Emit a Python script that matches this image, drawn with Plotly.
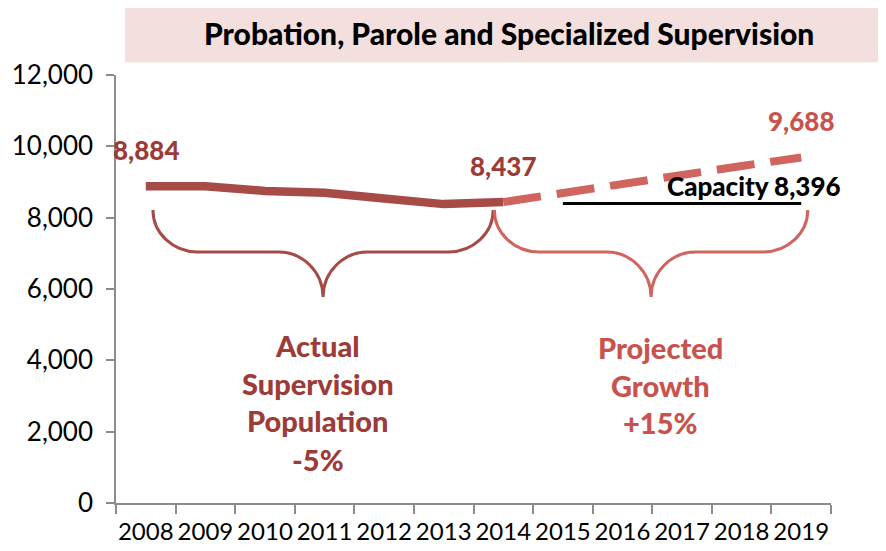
import plotly.graph_objects as go

# ---------------- data ----------------
actual_years = [2008, 2009, 2010, 2011, 2012, 2013, 2014]
actual_values = [8884, 8880, 8750, 8700, 8540, 8380, 8437]
projected_years = [2014, 2015, 2016, 2017, 2018, 2019]
projected_values = [8437, 8700, 8950, 9200, 9450, 9688]
capacity_years = [2015, 2016, 2017, 2018, 2019]
capacity_values = [8396, 8396, 8396, 8396, 8396]
year_ticks = list(range(2008, 2020))
y_ticks = [0, 2000, 4000, 6000, 8000, 10000, 12000]

title_text = "Probation, Parole and Specialized Supervision"
actual_label_lines = ["Actual", "Supervision", "Population", "-5%"]
projected_label_lines = ["Projected", "Growth", "+15%"]
capacity_label = "Capacity {:,}".format(capacity_values[-1])

# ---------------- style ----------------
FONT = "Lato"
DARK = "#A64B46"
DARK_TXT = "#9C3B37"
LIGHT = "#D0645E"
LIGHT_TXT = "#C9524D"
AXIS = "#8C8C8C"
W = 900

fig = go.Figure()

fig.add_trace(go.Scatter(x=actual_years, y=actual_values, mode="lines",
                         line=dict(color=DARK, width=8.5), hoverinfo="skip",
                         showlegend=False))
fig.add_trace(go.Scatter(x=projected_years, y=projected_values, mode="lines",
                         line=dict(color=LIGHT, width=8, dash="38px,16px"),
                         hoverinfo="skip", showlegend=False))
fig.add_trace(go.Scatter(x=capacity_years, y=capacity_values, mode="lines",
                         line=dict(color="black", width=3), hoverinfo="skip",
                         showlegend=False))


def brace(xa, xb, ytop, ybar, ytip, r):
    mid = (xa + xb) / 2.0
    h = ytop - ybar
    h2 = ybar - ytip
    k = 0.552
    p = [
        f"M {xa},{ytop}",
        f"C {xa},{ytop - k*h} {xa + (1-k)*r},{ybar} {xa + r},{ybar}",
        f"L {mid - r},{ybar}",
        f"C {mid - (1-k)*r},{ybar} {mid},{ytip + k*h2} {mid},{ytip}",
        f"C {mid},{ytip + k*h2} {mid + (1-k)*r},{ybar} {mid + r},{ybar}",
        f"L {xb - r},{ybar}",
        f"C {xb - (1-k)*r},{ybar} {xb},{ytop - k*h} {xb},{ytop}",
    ]
    return " ".join(p)


shapes = [
    dict(type="rect", xref="paper", yref="paper", x0=0.0126, x1=1.08,
         y0=1.030, y1=1.168, fillcolor="#F2DFDE", line=dict(width=0),
         layer="below"),
    dict(type="path", xref="x", yref="y",
         path=brace(2008.12, 2013.83, 8215, 7037, 5776, 0.75),
         line=dict(color=DARK, width=3)),
    dict(type="path", xref="x", yref="y",
         path=brace(2013.85, 2019.11, 8215, 7037, 5776, 0.75),
         line=dict(color=LIGHT, width=3)),
]

annotations = [
    dict(text=title_text, xref="paper", yref="paper", x=0.549,
         y=1.098, showarrow=False, xanchor="center", yanchor="middle",
         font=dict(family=FONT, size=30, color="black", weight=W)),
]

# data labels from the series
for xv, yv, col in [(actual_years[0], actual_values[0], DARK_TXT),
                    (actual_years[-1], actual_values[-1], DARK_TXT),
                    (projected_years[-1], projected_values[-1], LIGHT_TXT)]:
    annotations.append(dict(text=f"{yv:,}", x=xv, y=yv, xref="x",
                            yref="y", showarrow=False, yshift=36,
                            font=dict(family=FONT, size=26, color=col,
                                      weight=W)))

annotations.append(dict(text=capacity_label, x=capacity_years[-1],
                        y=capacity_values[-1], xref="x", yref="y",
                        showarrow=False, xanchor="right", xshift=42,
                        yshift=18,
                        font=dict(family=FONT, size=26, color="black",
                                  weight=W)))

for line, yv in zip(actual_label_lines, [4430, 3364, 2327, 1206]):
    annotations.append(dict(text=line, x=2010.89, y=yv, xref="x",
                            yref="y", showarrow=False,
                            font=dict(family=FONT, size=29, color=DARK_TXT,
                                      weight=W)))
for line, yv in zip(projected_label_lines, [4346, 3308, 2271]):
    annotations.append(dict(text=line, x=2016.63, y=yv, xref="x",
                            yref="y", showarrow=False,
                            font=dict(family=FONT, size=29, color=LIGHT_TXT,
                                      weight=W)))

# the page body adds an 8px offset, so the figure is sized/margined to match
fig.update_layout(
    width=878, height=543,
    margin=dict(l=108, r=55, t=67, b=48, autoexpand=False),
    paper_bgcolor="white", plot_bgcolor="white",
    shapes=shapes, annotations=annotations,
    font=dict(family=FONT, size=24, color="black"),
    xaxis=dict(range=[2007.5, 2019.5], tickvals=year_ticks,
               ticktext=[str(y) for y in year_ticks], automargin=False,
               ticks="outside", ticklen=0, showgrid=False, zeroline=False,
               showline=True, linecolor=AXIS, linewidth=1.5,
               ticklabelstandoff=6,
               minor=dict(tick0=2007.5, dtick=1, ticks="outside", ticklen=9,
                          tickcolor=AXIS, tickwidth=1.5, showgrid=False),
               tickfont=dict(family=FONT, size=24, color="black")),
    yaxis=dict(range=[0, 12000], tickvals=y_ticks, tickformat=",",
               ticks="outside", ticklen=8, tickcolor=AXIS, tickwidth=1.5,
               showgrid=False, zeroline=False, showline=True, linecolor=AXIS,
               linewidth=1.5, automargin=False, ticklabelstandoff=8,
               tickfont=dict(family=FONT, size=26, color="black")),
)

fig.write_html("out.html")
